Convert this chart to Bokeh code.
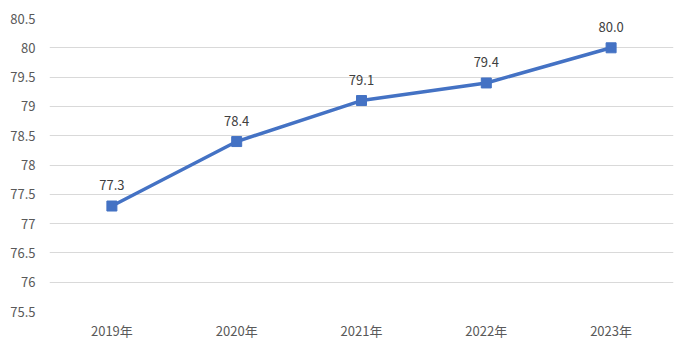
from bokeh.plotting import figure
from bokeh.models import ColumnDataSource, FixedTicker, Range1d, LabelSet
from bokeh.core.properties import value
from bokeh.embed import file_html
from bokeh.resources import INLINE

years = ["2019年", "2020年", "2021年", "2022年", "2023年"]
values = [77.3, 78.4, 79.1, 79.4, 80.0]
value_labels = ["77.3", "78.4", "79.1", "79.4", "80.0"]
y_ticks = [75.5, 76, 76.5, 77, 77.5, 78, 78.5, 79, 79.5, 80, 80.5]
y_tick_labels = ["75.5", "76", "76.5", "77", "77.5", "78", "78.5", "79", "79.5", "80", "80.5"]

src = ColumnDataSource(dict(x=years, y=values, lab=value_labels))

p = figure(x_range=years, y_range=Range1d(75.5, 80.5), width=692, height=351,
           output_backend="svg", toolbar_location=None,
           min_border_left=49, min_border_right=19, min_border_top=18, min_border_bottom=40)
p.outline_line_color = None
p.background_fill_color = "white"
p.border_fill_color = "white"
p.xgrid.grid_line_color = None
p.ygrid.grid_line_color = "#d9d9d9"
p.ygrid.grid_line_width = 1

p.yaxis.ticker = FixedTicker(ticks=y_ticks)
p.yaxis.major_label_overrides = {t: l for t, l in zip(y_ticks, y_tick_labels)}
for ax in (p.xaxis, p.yaxis):
    ax.axis_line_color = None
    ax.major_tick_line_color = None
    ax.minor_tick_line_color = None
    ax.major_label_text_color = "#595959"
    ax.major_label_text_font = "Noto Sans CJK SC"
    ax.major_label_text_font_size = "13px"
p.yaxis.major_label_standoff = 8
p.xaxis.major_label_standoff = 3

p.line("x", "y", source=src, line_color="#4472C4", line_width=3.5)
p.scatter("x", "y", source=src, marker="square", size=10, fill_color="#4472C4", line_color="#4472C4")

labels = LabelSet(x="x", y="y", text="lab", source=src, y_offset=16, text_align="center",
                  text_baseline="bottom", text_color="#404040", text_font_size="13px",
                  text_font=value("Noto Sans CJK SC"))
p.add_layout(labels)

open("out.html", "w").write(file_html(p, INLINE))
